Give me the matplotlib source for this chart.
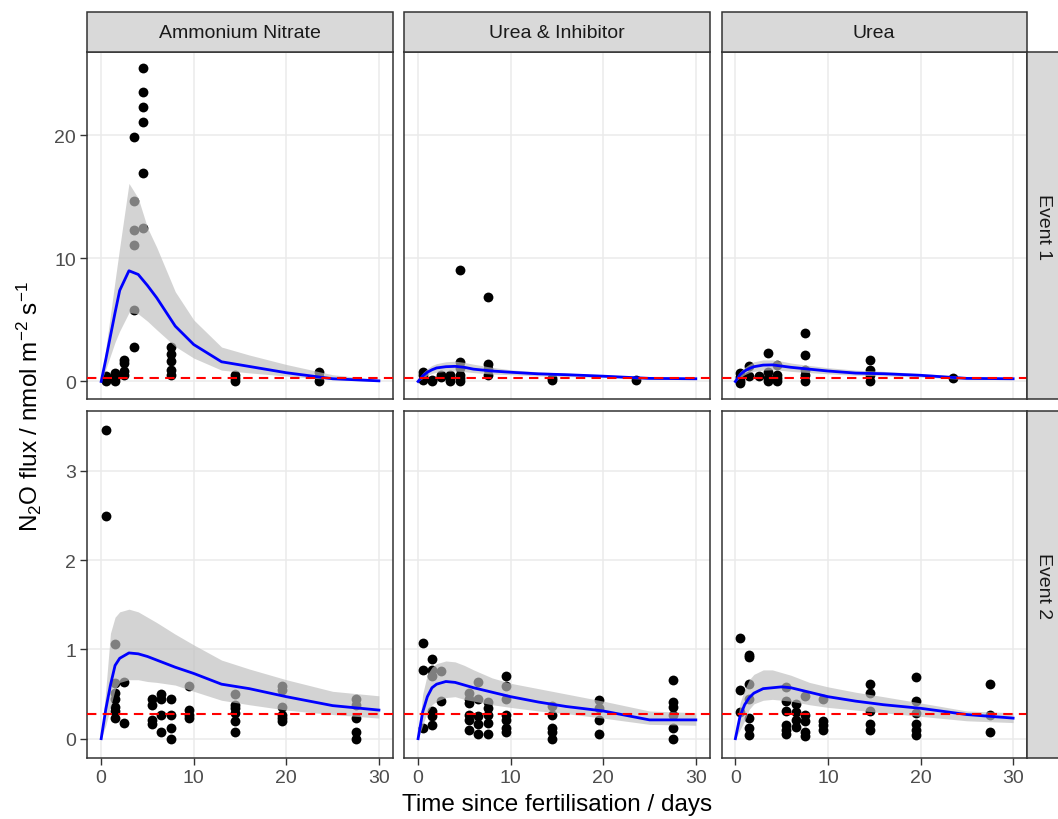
import matplotlib
matplotlib.use('Agg')
import matplotlib.pyplot as plt
from matplotlib.patches import Rectangle

plt.rcParams['font.family'] = ['Liberation Sans', 'DejaVu Sans']
plt.rcParams['mathtext.fontset'] = 'custom'
plt.rcParams['mathtext.rm'] = 'Liberation Sans'
plt.rcParams['mathtext.it'] = 'Liberation Sans:italic'
plt.rcParams['mathtext.default'] = 'rm'

# ---------------- data ----------------
fertilisers = ['Ammonium Nitrate', 'Urea & Inhibitor', 'Urea']
events = ['Event 1', 'Event 2']
x_ticks = [0, 10, 20, 30]
y_ticks_e1 = [0, 10, 20]
y_ticks_e2 = [0, 1, 2, 3]
baseline = 0.28

# sampling days of the observations
t_e1 = [0.5, 1.5, 2.5, 3.5, 4.5, 7.5, 14.5, 23.5]
t_e2 = [0.5, 1.5, 2.5, 5.5, 6.5, 7.5, 9.5, 14.5, 19.5, 27.5]

# observed fluxes (one list per sampling day)
an_e1_obs = [[0.05, 0.2, 0.45], [0.05, 0.3, 0.5, 0.68], [0.5, 0.82, 1.5, 1.77],
             [2.78, 5.78, 11.1, 12.33, 14.65, 19.86],
             [12.47, 16.97, 21.09, 22.32, 23.55, 25.46],
             [0.55, 0.95, 1.64, 2.24, 2.78], [0.05, 0.3, 0.55], [0.0, 0.35, 0.74]]
ui_e1_obs = [[0.14, 0.5, 0.74], [0.0, 0.1], [0.4, 0.55], [0.0, 0.3, 0.55],
             [0.0, 0.3, 0.55, 1.09, 1.58, 9.06], [0.55, 1.0, 1.45, 6.88],
             [0.1, 0.27], [0.14]]
u_e1_obs = [[-0.1, 0.0, 0.4, 0.7], [0.41, 1.23], [0.46], [0.0, 0.3, 0.74, 2.32],
            [0.0, 0.3, 0.55, 1.36], [0.0, 0.55, 0.95, 2.13, 3.96],
            [0.05, 0.55, 0.95, 1.77], [0.27]]

an_e2_obs = [[2.49, 3.46], [0.23, 0.31, 0.36, 0.44, 0.51, 0.62, 1.06], [0.17, 0.63],
             [0.16, 0.21, 0.38, 0.44], [0.07, 0.26, 0.44, 0.50],
             [0.0, 0.12, 0.26, 0.44], [0.23, 0.27, 0.32, 0.59],
             [0.07, 0.20, 0.29, 0.34, 0.38, 0.50],
             [0.20, 0.23, 0.27, 0.36, 0.54, 0.59], [0.0, 0.08, 0.23, 0.38, 0.44]]
ui_e2_obs = [[0.12, 0.77, 1.07], [0.15, 0.25, 0.31, 0.70, 0.77, 0.89], [0.42, 0.76],
             [0.10, 0.21, 0.27, 0.40, 0.44, 0.51], [0.05, 0.16, 0.25, 0.44, 0.63],
             [0.05, 0.18, 0.27, 0.34, 0.41], [0.07, 0.12, 0.21, 0.27, 0.44, 0.59, 0.70],
             [0.0, 0.07, 0.12, 0.27, 0.37], [0.05, 0.21, 0.34, 0.43],
             [0.0, 0.12, 0.26, 0.36, 0.41, 0.66]]
u_e2_obs = [[0.30, 0.54, 1.13], [0.04, 0.12, 0.23, 0.44, 0.61, 0.91, 0.94], [],
            [0.05, 0.10, 0.15, 0.31, 0.42, 0.58], [0.13, 0.21, 0.30, 0.39],
            [0.03, 0.08, 0.20, 0.27, 0.48], [0.10, 0.15, 0.20, 0.44],
            [0.10, 0.16, 0.31, 0.51, 0.61], [0.04, 0.10, 0.16, 0.29, 0.42, 0.69],
            [0.08, 0.27, 0.61]]

# model fit and confidence band
fit_t = [0, 0.5, 1, 1.5, 2, 3, 4, 5, 6, 8, 10, 13, 16, 20, 25, 30]

an_e1_fit = [0, 1.8, 3.7, 5.6, 7.4, 9.0, 8.7, 7.8, 6.8, 4.5, 3.0, 1.6, 1.22, 0.71, 0.22, 0.05]
an_e1_lo = [0, 1.0, 2.1, 3.2, 4.1, 5.6, 5.5, 4.9, 4.2, 2.85, 1.9, 0.92, 0.7, 0.44, 0.14, 0.0]
an_e1_hi = [0, 2.7, 5.4, 8.2, 10.9, 16.1, 14.9, 12.5, 10.9, 7.3, 5.0, 2.8, 2.15, 1.38, 0.55, 0.14]

ui_e1_fit = [0, 0.45, 0.75, 0.95, 1.1, 1.2, 1.23, 1.15, 1.0, 0.85, 0.75, 0.62, 0.55, 0.43, 0.25, 0.22]
ui_e1_lo = [0, 0.25, 0.5, 0.65, 0.75, 0.82, 0.85, 0.8, 0.72, 0.6, 0.55, 0.45, 0.4, 0.32, 0.17, 0.15]
ui_e1_hi = [0.1, 0.7, 1.05, 1.3, 1.45, 1.6, 1.65, 1.55, 1.4, 1.15, 0.95, 0.78, 0.68, 0.55, 0.35, 0.3]

u_e1_fit = [0, 0.55, 0.85, 1.05, 1.2, 1.33, 1.35, 1.25, 1.15, 1.0, 0.85, 0.68, 0.63, 0.5, 0.25, 0.22]
u_e1_lo = [0, 0.3, 0.55, 0.72, 0.82, 0.92, 0.95, 0.9, 0.82, 0.72, 0.62, 0.5, 0.46, 0.36, 0.15, 0.15]
u_e1_hi = [0.1, 0.8, 1.15, 1.4, 1.6, 1.75, 1.75, 1.65, 1.5, 1.3, 1.12, 0.92, 0.82, 0.65, 0.38, 0.3]

an_e2_fit = [0, 0.33, 0.6, 0.82, 0.9, 0.96, 0.95, 0.92, 0.88, 0.8, 0.73, 0.61, 0.56, 0.47, 0.37, 0.32]
an_e2_lo = [0, 0.15, 0.35, 0.55, 0.63, 0.66, 0.66, 0.64, 0.63, 0.6, 0.53, 0.43, 0.38, 0.32, 0.27, 0.23]
an_e2_hi = [0, 0.55, 1.18, 1.36, 1.42, 1.45, 1.42, 1.36, 1.3, 1.17, 1.05, 0.88, 0.78, 0.66, 0.53, 0.48]

ui_e2_fit = [0, 0.3, 0.47, 0.57, 0.61, 0.64, 0.63, 0.6, 0.57, 0.52, 0.47, 0.41, 0.36, 0.31, 0.21, 0.21]
ui_e2_lo = [0, 0.15, 0.3, 0.38, 0.42, 0.46, 0.47, 0.44, 0.42, 0.38, 0.35, 0.31, 0.28, 0.23, 0.16, 0.15]
ui_e2_hi = [0, 0.5, 0.72, 0.8, 0.84, 0.87, 0.86, 0.82, 0.77, 0.68, 0.62, 0.56, 0.5, 0.42, 0.31, 0.29]

u_e2_fit = [0, 0.25, 0.38, 0.46, 0.51, 0.56, 0.57, 0.58, 0.57, 0.52, 0.47, 0.42, 0.38, 0.34, 0.27, 0.23]
u_e2_lo = [0, 0.1, 0.2, 0.33, 0.39, 0.43, 0.44, 0.43, 0.42, 0.38, 0.35, 0.32, 0.29, 0.25, 0.2, 0.18]
u_e2_hi = [0, 0.4, 0.55, 0.66, 0.72, 0.77, 0.77, 0.74, 0.71, 0.63, 0.58, 0.52, 0.47, 0.4, 0.31, 0.29]

panels = {
    (0, 0): (t_e1, an_e1_obs, an_e1_fit, an_e1_lo, an_e1_hi),
    (0, 1): (t_e1, ui_e1_obs, ui_e1_fit, ui_e1_lo, ui_e1_hi),
    (0, 2): (t_e1, u_e1_obs, u_e1_fit, u_e1_lo, u_e1_hi),
    (1, 0): (t_e2, an_e2_obs, an_e2_fit, an_e2_lo, an_e2_hi),
    (1, 1): (t_e2, ui_e2_obs, ui_e2_fit, ui_e2_lo, ui_e2_hi),
    (1, 2): (t_e2, u_e2_obs, u_e2_fit, u_e2_lo, u_e2_hi),
}

# ---------------- layout ----------------
W, H = 1058, 820
col_left = [87.3, 404.2, 721.5]
col_w = 305.5
row_top = [53.3, 412.3]
row_h = 347.0
strip_h = 40.0
strip_w = 33.0
ylims = [(-1.45, 26.76), (-0.22, 3.666)]
yticks = [y_ticks_e1, y_ticks_e2]

border = '#333333'
grid_c = '#EBEBEB'
strip_fill = '#D9D9D9'
tick_lab_c = '#4D4D4D'

fig = plt.figure(figsize=(W / 100, H / 100), dpi=100)

for r in range(2):
    for c in range(3):
        ax = fig.add_axes([col_left[c] / W, 1 - (row_top[r] + row_h) / H,
                           col_w / W, row_h / H])
        t, obs, fit, lo, hi = panels[(r, c)]
        xs, ys = [], []
        for ti, vals in zip(t, obs):
            for v in vals:
                xs.append(ti)
                ys.append(v)
        ax.scatter(xs, ys, s=50, color='black', linewidths=0, zorder=2)
        ax.fill_between(fit_t, lo, hi, color='#BEBEBE', alpha=0.67,
                        linewidth=0, zorder=3)
        ax.plot(fit_t, fit, color='#0000FF', lw=2.0, zorder=4,
                solid_joinstyle='round')
        ax.axhline(baseline, color='#FF0000', lw=1.5, ls=(0, (4.5, 3)), zorder=5)

        ax.set_xlim(-1.5, 31.5)
        ax.set_ylim(*ylims[r])
        ax.set_xticks(x_ticks)
        ax.set_yticks(yticks[r])
        ax.grid(True, color=grid_c, lw=1.1, zorder=0)
        ax.set_axisbelow(True)
        for s in ax.spines.values():
            s.set_color(border)
            s.set_linewidth(1.1)
        ax.tick_params(direction='out', length=5, width=1.0, color=border,
                       labelcolor=tick_lab_c, labelsize=14, pad=3)
        ax.tick_params(axis='x', bottom=(r == 1), labelbottom=(r == 1))
        ax.tick_params(axis='y', left=(c == 0), labelleft=(c == 0))

# top strips
for c in range(3):
    rect = Rectangle((col_left[c] / W, 1 - row_top[0] / H), col_w / W, strip_h / H,
                     transform=fig.transFigure, facecolor=strip_fill,
                     edgecolor=border, lw=1.1)
    fig.add_artist(rect)
    fig.text((col_left[c] + col_w / 2) / W, 1 - (row_top[0] - strip_h / 2) / H,
             fertilisers[c], ha='center', va='center', fontsize=14, color='#1A1A1A')

# right strips
x_strip = col_left[2] + col_w
for r in range(2):
    rect = Rectangle((x_strip / W, 1 - (row_top[r] + row_h) / H), strip_w / W, row_h / H,
                     transform=fig.transFigure, facecolor=strip_fill,
                     edgecolor=border, lw=1.1)
    fig.add_artist(rect)
    fig.text((x_strip + strip_w / 2) / W, 1 - (row_top[r] + row_h / 2) / H,
             events[r], ha='center', va='center', rotation=-90, fontsize=14,
             color='#1A1A1A')

# axis titles
x_mid = (col_left[0] + col_left[2] + col_w) / 2
fig.text(x_mid / W, 1 - 805 / H, 'Time since fertilisation / days',
         ha='center', va='center', fontsize=17.5)
fig.text(29 / W, 1 - ((row_top[0] + row_top[1] + row_h) / 2) / H,
         r'N$_2$O flux / nmol m$^{-2}$ s$^{-1}$',
         ha='center', va='center', rotation=90, fontsize=17.5)

fig.savefig('out.png', dpi=100)
